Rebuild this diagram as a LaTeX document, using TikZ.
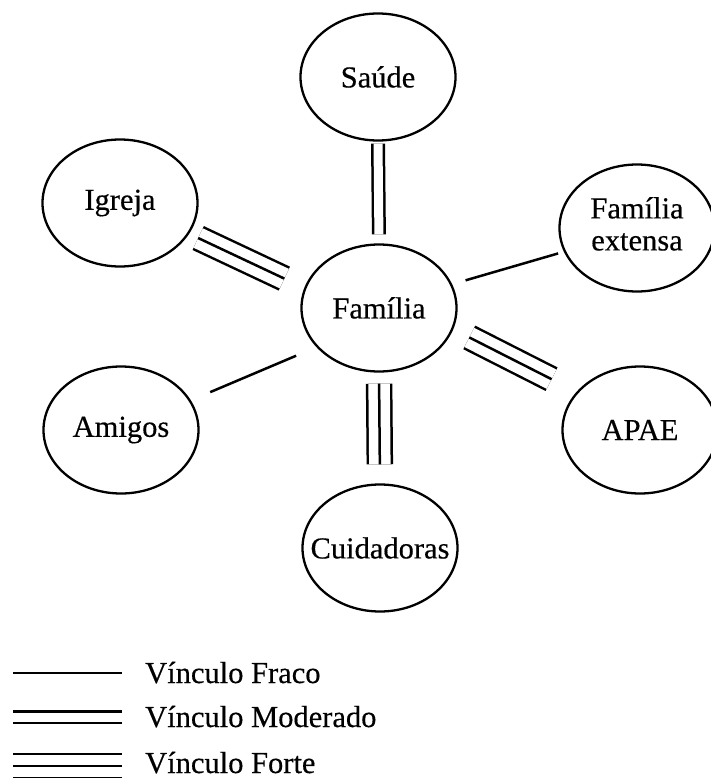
\documentclass[tikz,border=0pt]{standalone}
\usepackage{fontspec}
\setmainfont{Liberation Serif}[FakeBold=0.4]
\usepackage{tikz}
\usetikzlibrary{calc}
\usetikzlibrary{shapes}
\usetikzlibrary{positioning}

\newcommand{\rotulo}[1]{\makebox[0pt]{#1}}

\begin{document}
\begin{tikzpicture}
        [x=1pt,y=-1pt,
          font=\fontsize{30.5}{32}\selectfont,
          circulo/.style={ellipse,draw,line width=2.3pt,minimum width=155pt,minimum height=127pt,inner sep=0pt},
          fraco/.style={line width=2.5pt},
          moderado/.style={line width=2.5pt,double,double distance=9pt},
          forte/.style={line width=2.5pt,preaction={draw,line width=2.5pt,double,double distance=21.5pt}},
          legenda/.style={anchor=base west,inner sep=0pt}]
        \useasboundingbox (0,0) rectangle (710,778);

        \node[circulo] (fam) at (379,308) {\rotulo{Família}};
        \node[circulo] (sau) at (378,77)  {\rotulo{Saúde}};
        \node[circulo] (igr) at (120,203) {\rotulo{Igreja}};
        \node[circulo] (ext) at (637,228) {\rotulo{\begin{tabular}{@{}c@{}}Família\\extensa\end{tabular}}};
        \node[circulo] (ami) at (121,430) {\rotulo{Amigos}};
        \node[circulo] (apa) at (640,430) {\rotulo{APAE}};
        \node[circulo] (cui) at (380,548) {\rotulo{Cuidadoras}};

        % vinculos
        \draw[moderado, shorten <=2pt, shorten >=9pt] (sau.south) -- (fam.north);
        \draw[forte, shorten <=10pt, shorten >=22pt] (igr.-24) -- (fam.165);
        \draw[fraco, shorten <=14pt, shorten >=6pt] (fam.18) -- (ext.198);
        \draw[forte, shorten <=18pt, shorten >=28pt] (fam.-16) -- (apa.149);
        \draw[fraco, shorten <=22pt, shorten >=21pt] (fam.212) -- (ami.23);
        \draw[forte, shorten <=11pt, shorten >=19pt] (fam.south) -- (cui.north);

        % legenda
        \node[legenda] (tfraco) at (145,683) {Vínculo Fraco};
        \node[legenda] (tmod) at (145,727) {Vínculo Moderado};
        \node[legenda] (tforte) at (145,773) {Vínculo Forte};
        \coordinate (fraco1) at (13,673);
        \coordinate (fraco2) at (122,673);
        \coordinate (mod1) at (13,717);
        \coordinate (mod2) at (122,717);
        \coordinate (forte1) at (13,766);
        \coordinate (forte2) at (122,766);
        \draw[fraco] (fraco1) -- (fraco2);
        \draw[moderado] (mod1) -- (mod2);
        \draw[forte] (forte1) -- (forte2);

      \end{tikzpicture}
\end{document}
